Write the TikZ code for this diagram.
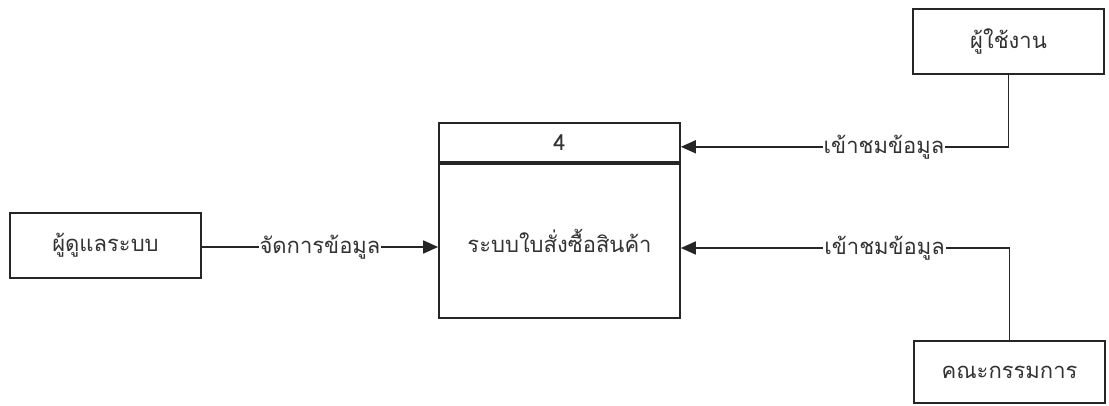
\documentclass[tikz,border=0pt]{standalone}
\usepackage{fontspec}
\newfontfamily\thaifont[Script=Thai]{Loma}
\usetikzlibrary{arrows.meta, positioning}

\begin{document}
\begin{tikzpicture}[x=1pt, y=-1pt, >={Triangle[length=15pt, width=13pt]}, line width=1.7pt,
    every node/.style={font=\thaifont\fontsize{22}{26}\selectfont, text=black!80},
    entity/.style={draw=black!85, rectangle, minimum width=191pt, minimum height=65pt, inner sep=0pt},
    flowlabel/.style={fill=white, inner sep=1pt}]
    \useasboundingbox (0,0) rectangle (1109,405);
    % entities
    \node [entity] (admin) at (105.5,245.5) {ผู้ดูแลระบบ};
    \node [entity] (user) at (1008.5,41.5) {ผู้ใช้งาน};
    \node [entity, minimum height=62pt] (board) at (1009.5,372) {คณะกรรมการ};
    % process 4
    \node [entity, minimum width=241pt, minimum height=154pt] (proc) at (559.5,241) {ระบบใบสั่งซื้อสินค้า};
    \node [entity, minimum width=241pt, minimum height=39pt, anchor=south] (procid) at (proc.north) {4};
    % data flows
    \draw [->, draw=black!85] ([yshift=-1.5pt]admin.east) -- node[flowlabel] {จัดการข้อมูล} ([yshift=-1.5pt]admin.east -| proc.west);
    \draw [->, draw=black!85] (user.south) |- node[flowlabel, pos=0.69] {เข้าชมข้อมูล} ([yshift=-4pt]procid.east);
    \draw [->, draw=black!85] (board.north) |- node[flowlabel, pos=0.69] {เข้าชมข้อมูล} ([yshift=-7pt]proc.east);
\end{tikzpicture}
\end{document}
